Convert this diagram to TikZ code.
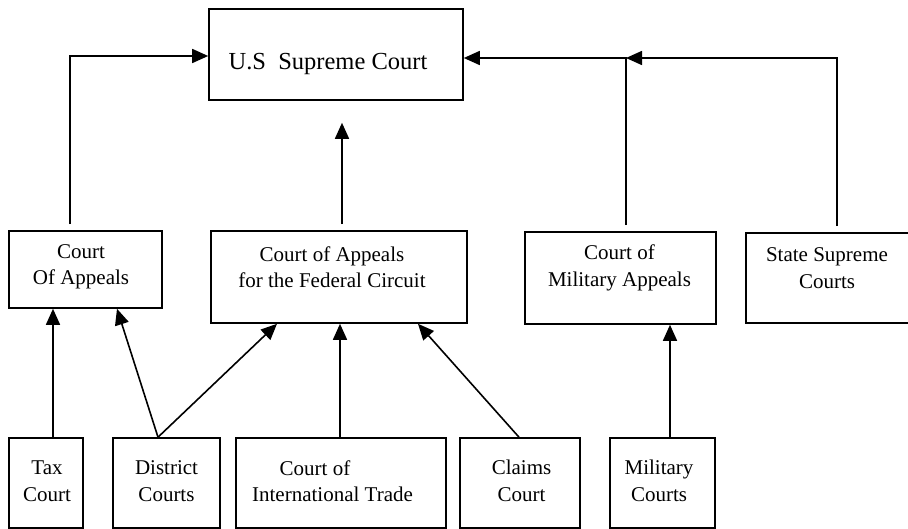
\documentclass[tikz,border=0pt]{standalone}
\usepackage{fontspec}
\setmainfont{Liberation Serif}
\usetikzlibrary{arrows.meta}
\begin{document}
\begin{tikzpicture}[x=1pt,y=-1pt,
  box/.style={draw=black, line width=1.6pt, rectangle, inner sep=0pt},
  lbl/.style={align=center, inner sep=0pt, font=\fontsize{21}{26.5}\selectfont},
  arr/.style={line width=1.6pt, -{Triangle[length=16pt,width=14pt]}},
  ln/.style={line width=1.6pt}]
\useasboundingbox (0,0) rectangle (908,529);
% boxes
\node[box, minimum width=254pt, minimum height=91pt] (sup) at (336,54.5) {};
\node[box, minimum width=153pt, minimum height=77pt] (coa) at (85.5,269.5) {};
\node[box, minimum width=256pt, minimum height=92pt] (fed) at (339,277) {};
\node[box, minimum width=191pt, minimum height=92pt] (cma) at (620.5,278) {};
\node[box, minimum width=174pt, minimum height=90pt] (ssc) at (833,278) {};
\node[box, minimum width=74pt, minimum height=90pt] (tax) at (46,483) {};
\node[box, minimum width=107pt, minimum height=90pt] (dis) at (166.5,483) {};
\node[box, minimum width=210pt, minimum height=90pt] (cit) at (341,483) {};
\node[box, minimum width=120pt, minimum height=90pt] (clm) at (520,483) {};
\node[box, minimum width=105pt, minimum height=90pt] (mil) at (662.5,483) {};
% labels
\node[inner sep=0pt, font=\fontsize{24.5}{30}\selectfont] (supT) at (328,64) {U.S\ \ Supreme Court};
\node[lbl] (coaT) at (81,267) {Court\\Of Appeals};
\node[lbl] (fedT) at (332,267) {Court of Appeals\\for the Federal Circuit};
\node[lbl] (cmaT) at (619.5,268) {Court of\\Military Appeals};
\node[lbl] (sscT) at (827,268) {State Supreme\\Courts};
\node[lbl] (taxT) at (47,481) {Tax\\Court};
\node[lbl] (disT) at (166.5,481) {District\\Courts};
\node[lbl] (citT) at (332.5,481) {Court of\hspace*{35pt}\\International Trade};
\node[lbl] (clmT) at (521.5,481) {Claims\\Court};
\node[lbl] (milT) at (659,481) {Military\\Courts};
% upper connectors
\coordinate (j) at (626,58);
\draw[arr, shorten <=6pt] ([xshift=-15.5pt]coa.north) |- ([yshift=-1.5pt]sup.west);
\draw[arr, shorten <=6pt, shorten >=22pt] ([xshift=3pt]fed.north) -- ([xshift=6pt]sup.south);
\draw[arr, shorten <=6pt] ([xshift=5.5pt]cma.north) |- ([yshift=-3.5pt]sup.east);
\draw[arr, shorten <=6pt] ([xshift=4pt]ssc.north) |- (j);
% lower connectors
\draw[arr] ([xshift=7pt]tax.north) -- ([xshift=-32.5pt]coa.south);
\draw[arr] ([xshift=-8.5pt]dis.north) -- ([xshift=31.5pt]coa.south);
\draw[arr] ([xshift=-8.5pt]dis.north) -- ([xshift=-62pt]fed.south);
\draw[arr] ([xshift=-1pt]cit.north) -- ([xshift=1pt]fed.south);
\draw[arr] ([xshift=-1pt]clm.north) -- ([xshift=79pt]fed.south);
\draw[arr] ([xshift=7.5pt]mil.north) -- ([xshift=49.5pt]cma.south);
\end{tikzpicture}
\end{document}
